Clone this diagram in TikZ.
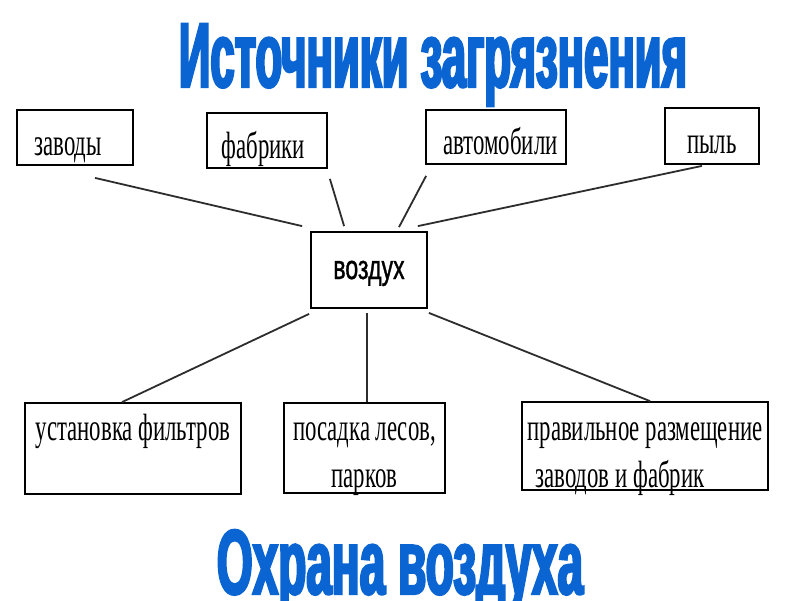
\documentclass[tikz,border=0pt]{standalone}
\usepackage{fontspec}
\usetikzlibrary{calc}
\newfontfamily\boxfont[FakeStretch=0.6]{Liberation Serif}
\newfontfamily\airfont[FakeStretch=0.68,FakeBold=1]{Liberation Sans}
\newfontfamily\titlefontA[FakeStretch=0.475,FakeBold=2.5]{Liberation Sans Bold}
\newfontfamily\titlefontB[FakeStretch=0.5,FakeBold=2.5]{Liberation Sans Bold}
\definecolor{titleblue}{RGB}{10,100,210}
\definecolor{linegray}{RGB}{45,45,45}
\newcommand\topstrut[1]{\rule{0pt}{#1pt}}
\newcommand\botstrut[1]{\rule[-#1pt]{0pt}{#1pt}}
\newcommand\nodepth[1]{\raisebox{0pt}[\height][0pt]{#1}}
\tikzset{
  box/.style={draw=black, line width=1.8pt, inner sep=0pt, align=center,
    font=\boxfont\fontsize{38}{47}\selectfont},
  topbox/.style={box, text height=37pt, text depth=2pt},
  conn/.style={draw=linegray, line width=1.8pt},
  ttl/.style={anchor=base, inner sep=0pt, text=titleblue}
}
\begin{document}
\begin{tikzpicture}[x=1pt, y=-1pt]
\useasboundingbox[fill=white] (0,0) rectangle (800,600);

% titles
\node[ttl, font=\titlefontA\fontsize{92}{92}\selectfont] (t1) at (433,87) {Источники загрязнения};
\node[ttl, font=\titlefontB\fontsize{92}{92}\selectfont] (t2) at (400,594) {Охрана воздуха};

% top boxes
\node[topbox, minimum width=116pt, minimum height=55pt] (zav) at (75,137.5) {\hspace*{-14pt}заводы};
\node[topbox, minimum width=120pt, minimum height=55pt] (fab) at (267,140.5) {\hspace*{-7pt}фабрики};
\node[topbox, minimum width=140pt, minimum height=54pt] (avto) at (496,137) {автомобили\hspace*{-9pt}};
\node[topbox, minimum width=94pt, minimum height=56pt] (pyl) at (712,136) {пыль};

% centre
\node[box, minimum width=116pt, minimum height=76pt, text height=24pt, text depth=6pt,
  font=\airfont\fontsize{34}{34}\selectfont] (vozd) at (369,270) {воздух};

% bottom boxes
\node[box, minimum width=216pt, minimum height=91pt] (ust) at (133,448.5)
  {\topstrut{36}установка фильтров\\\botstrut{6}};
\node[box, minimum width=161pt, minimum height=90pt] (pos) at (364.5,448)
  {\topstrut{36}посадка лесов,\\\nodepth{парков}\botstrut{5}};
\node[box, minimum width=246pt, minimum height=88pt, align=left] (prav) at (645,446)
  {\topstrut{38}правильное размещение\\\hspace*{8pt}\nodepth{заводов и фабрик}\botstrut{3}};

% connectors
\draw[conn] ($(zav.south)+(20,12)$) -- ($(vozd.north west)+(-8,-5)$);
\draw[conn] ($(fab.south east)+(2,10)$) -- ($(vozd.north west)+(34,-5)$);
\draw[conn] ($(avto.south west)+(1,11)$) -- ($(vozd.north)+(30,-4)$);
\draw[conn] ($(pyl.south)+(-10,1)$) -- ($(vozd.north east)+(-10,-5)$);
\draw[conn] ($(vozd.south west)+(-1,5)$) -- ($(ust.north)+(-11,0)$);
\draw[conn] ($(vozd.south)+(-2,4)$) -- ($(pos.north)+(2.5,0)$);
\draw[conn] ($(vozd.south east)+(1,4)$) -- ($(prav.north)+(5,0)$);
\end{tikzpicture}
\end{document}
